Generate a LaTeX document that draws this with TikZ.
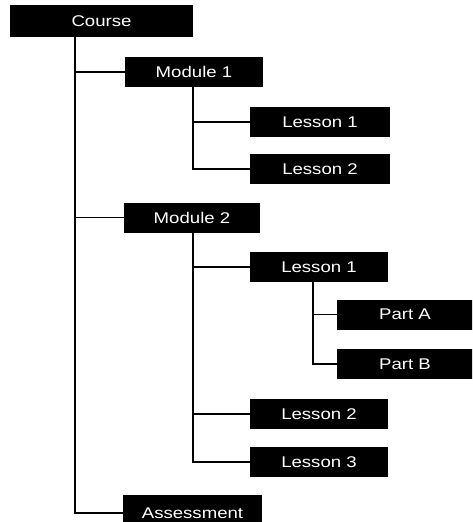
\documentclass[tikz,border=0pt]{standalone}
\usepackage{fontspec}
\setmainfont[FakeStretch=1.2]{Liberation Sans}
\begin{document}
\begin{tikzpicture}[x=1pt,y=-1pt,
  box/.style={fill=black,text=white,minimum height=30pt,inner sep=0pt,
    font=\fontsize{15.5}{18}\selectfont},
  link/.style={line width=1.2pt,black}]
\useasboundingbox (0,0) rectangle (472,522);
\clip (0,0) rectangle (472,522);
\node[box,minimum width=183pt,minimum height=32pt] (course) at (101.5,21) {Course};
\node[box,minimum width=138pt] (mod1) at (194,72) {Module 1};
\node[box,minimum width=140pt] (l11) at (320,122) {Lesson 1};
\node[box,minimum width=140pt] (l12) at (320,169) {Lesson 2};
\node[box,minimum width=136pt] (mod2) at (192,217.5) {Module 2};
\node[box,minimum width=138pt] (l21) at (319,267) {Lesson 1};
\node[box,minimum width=136pt] (pa) at (405,314.5) {Part A};
\node[box,minimum width=136pt] (pb) at (405,364) {Part B};
\node[box,minimum width=138pt] (l22) at (319,414) {Lesson 2};
\node[box,minimum width=138pt] (l23) at (319,462) {Lesson 3};
\node[box,minimum width=139pt,minimum height=36pt] (asm) at (192.5,513) {Assessment};
\coordinate (t) at (75,37);
\coordinate (t1) at (193,87);
\coordinate (t2) at (193,232.5);
\coordinate (t3) at (313,282);
\draw[link] (t) |- (asm.west);
\draw[link] (t) |- (mod1.west);
\draw[link] (t) |- (mod2.west);
\draw[link] (t1) |- (l12.west);
\draw[link] (t1) |- (l11.west);
\draw[link] (t2) |- (l23.west);
\draw[link] (t2) |- (l22.west);
\draw[link] (t2) |- (l21.west);
\draw[link] (t3) |- (pb.west);
\draw[link] (t3) |- (pa.west);
\end{tikzpicture}
\end{document}
